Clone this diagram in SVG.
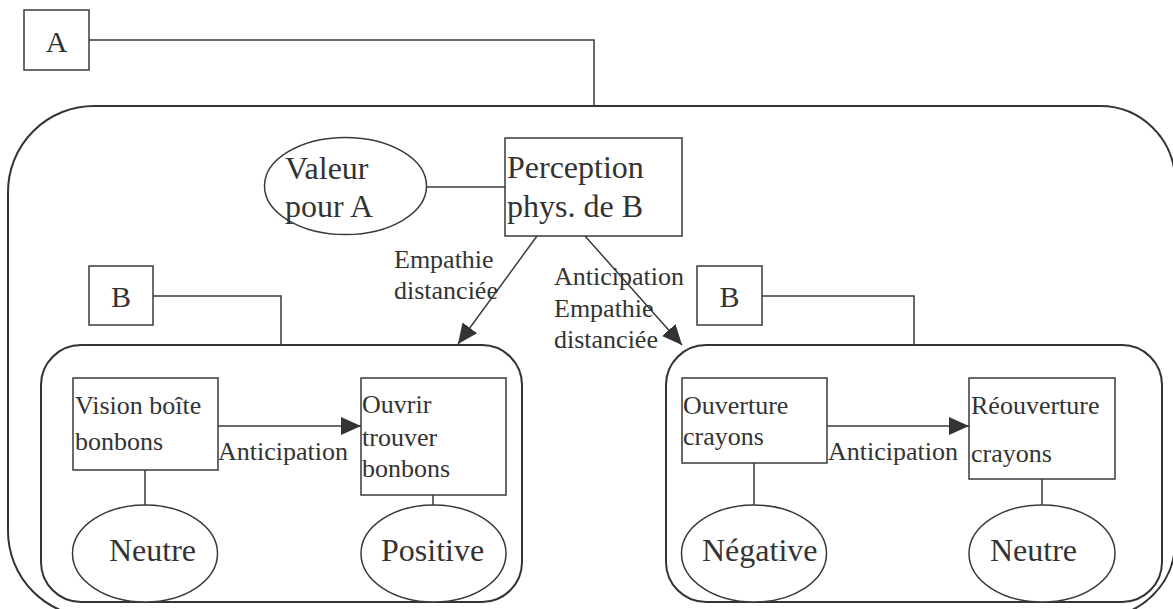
<svg xmlns="http://www.w3.org/2000/svg" width="1173" height="609" viewBox="0 0 1173 609">
  <style>
    .box { fill: #fff; stroke: #3a3a3a; stroke-width: 1.5; }
    .frame { fill: none; stroke: #333; stroke-width: 2; }
    .line { fill: none; stroke: #3a3a3a; stroke-width: 1.5; }
    text { font-family: "Liberation Serif", "Times New Roman", serif; fill: #333; }
    .big { font-size: 32px; }
    .mid { font-size: 30px; }
    .small { font-size: 26px; }
  </style>
  <defs>
    <marker id="head" markerUnits="userSpaceOnUse" markerWidth="22" markerHeight="20" refX="20" refY="9" orient="auto">
      <path d="M0,0 L20,9 L0,18 Z" fill="#333"/>
    </marker>
  </defs>

  <!-- containers -->
  <g id="frame-A">
    <path class="frame" d="M94,106 H1100 A75,75 0 0 1 1175,181 V542 A75,75 0 0 1 1100,617 H94 A86,86 0 0 1 8,531 V192 A86,86 0 0 1 94,106 Z"/>
  </g>
  <g id="frame-B1">
    <rect class="frame" x="41" y="345" width="481" height="257" rx="40" ry="40"/>
  </g>
  <g id="frame-B2">
    <rect class="frame" x="666" y="345" width="496" height="257" rx="40" ry="40"/>
  </g>

  <!-- connectors -->
  <g id="connectors">
    <polyline class="line" points="89,40 594,40 594,106"/>
    <polyline class="line" points="153,296 281,296 281,345"/>
    <polyline class="line" points="762,296 914,296 914,345"/>
    <line class="line" x1="427" y1="187" x2="505" y2="187"/>
    <line class="line" x1="537" y1="236" x2="458" y2="344" marker-end="url(#head)"/>
    <line class="line" x1="585" y1="236" x2="682" y2="345" marker-end="url(#head)"/>
    <line class="line" x1="218" y1="426" x2="361" y2="426" marker-end="url(#head)"/>
    <line class="line" x1="827" y1="426" x2="969" y2="426" marker-end="url(#head)"/>
    <line class="line" x1="145" y1="470" x2="145" y2="505"/>
    <line class="line" x1="433" y1="495" x2="433" y2="505"/>
    <line class="line" x1="754" y1="463" x2="754" y2="505"/>
    <line class="line" x1="1042" y1="479" x2="1042" y2="505"/>
  </g>

  <!-- connector labels -->
  <g id="labels">
    <text class="small" x="394" y="268">Empathie</text>
    <text class="small" x="394" y="299">distanciée</text>
    <text class="small" x="554" y="285">Anticipation</text>
    <text class="small" x="554" y="317">Empathie</text>
    <text class="small" x="554" y="348">distanciée</text>
    <text class="small" x="218" y="460">Anticipation</text>
    <text class="small" x="828" y="460">Anticipation</text>
  </g>

  <g id="node-A">
    <rect class="box" x="24" y="10" width="65" height="60"/>
    <text class="mid" x="56.5" y="52" text-anchor="middle">A</text>
  </g>
  <g id="node-valeur">
    <ellipse class="box" cx="345.5" cy="186" rx="81" ry="48.5"/>
    <text class="big" x="285" y="179">Valeur</text>
    <text class="big" x="285" y="217">pour A</text>
  </g>
  <g id="node-perception">
    <rect class="box" x="505" y="138" width="177" height="98"/>
    <text class="big" x="507" y="178">Perception</text>
    <text class="big" x="507" y="217">phys. de B</text>
  </g>

  <g id="node-B1">
    <rect class="box" x="89" y="266" width="64" height="59"/>
    <text class="mid" x="121" y="307" text-anchor="middle">B</text>
  </g>
  <g id="node-vision">
    <rect class="box" x="73" y="378" width="145" height="92"/>
    <text class="small" x="75" y="414">Vision boîte</text>
    <text class="small" x="75" y="450">bonbons</text>
  </g>
  <g id="node-ouvrir">
    <rect class="box" x="361" y="378" width="145" height="117"/>
    <text class="small" x="362" y="413">Ouvrir</text>
    <text class="small" x="362" y="446">trouver</text>
    <text class="small" x="362" y="477">bonbons</text>
  </g>
  <g id="node-neutre1">
    <ellipse class="box" cx="145" cy="553.5" rx="72.5" ry="48.5"/>
    <text class="big" x="109" y="561">Neutre</text>
  </g>
  <g id="node-positive">
    <ellipse class="box" cx="433.5" cy="553.5" rx="72.5" ry="48.5"/>
    <text class="big" x="381" y="561">Positive</text>
  </g>

  <g id="node-B2">
    <rect class="box" x="697" y="266" width="65" height="59"/>
    <text class="mid" x="729.5" y="307" text-anchor="middle">B</text>
  </g>
  <g id="node-ouverture">
    <rect class="box" x="682" y="378" width="145" height="85"/>
    <text class="small" x="683" y="414">Ouverture</text>
    <text class="small" x="683" y="445">crayons</text>
  </g>
  <g id="node-reouverture">
    <rect class="box" x="969" y="378" width="146" height="101"/>
    <text class="small" x="971" y="414">Réouverture</text>
    <text class="small" x="971" y="462">crayons</text>
  </g>
  <g id="node-negative">
    <ellipse class="box" cx="754" cy="553.5" rx="72.5" ry="48.5"/>
    <text class="big" x="702" y="561">Négative</text>
  </g>
  <g id="node-neutre2">
    <ellipse class="box" cx="1042" cy="553.5" rx="73" ry="48.5"/>
    <text class="big" x="990" y="561">Neutre</text>
  </g>
</svg>
